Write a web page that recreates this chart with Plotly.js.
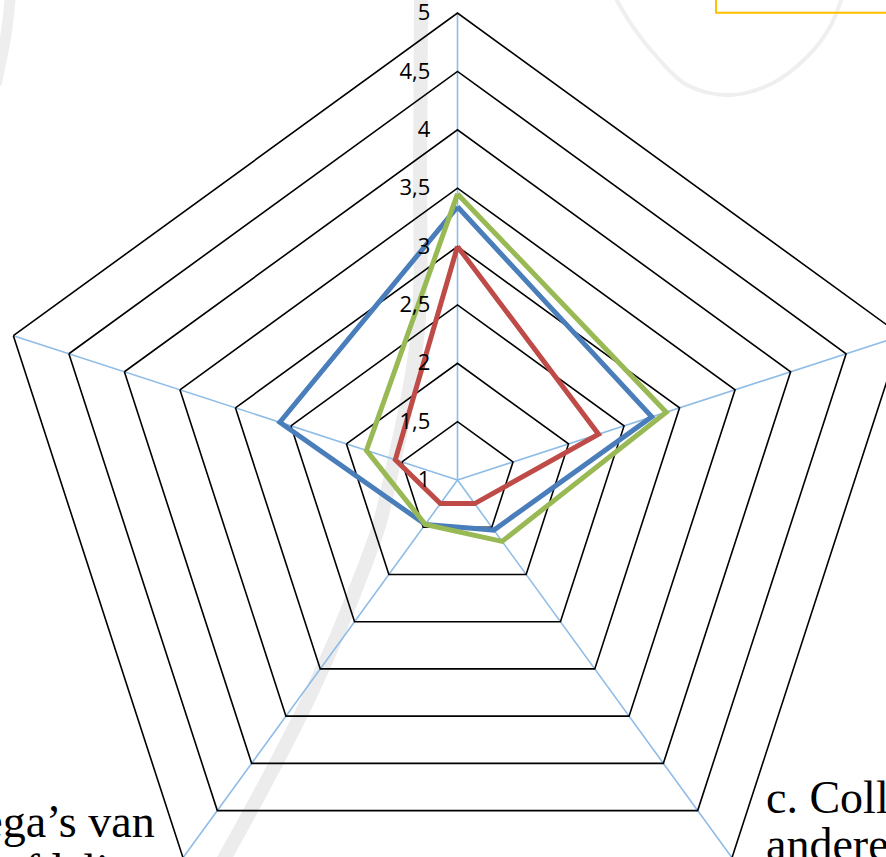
<!DOCTYPE html>
<html>
<head>
<meta charset="utf-8">
<script src="https://cdn.plot.ly/plotly-3.0.1.min.js"></script>
<style>
html,body{margin:0;padding:0;overflow:hidden;width:886px;height:857px;background:#fff;}
#chart{position:absolute;left:-60px;top:-100px;width:1200px;height:1100px;}
</style>
</head>
<body>
<div id="chart"></div>
<script>
// ---- data ----
const categories = ["a.", "b.", "c. Collega’s van andere afdelingen", "d. Collega’s van eigen afdeling", "e."];
const seriesNames = ["Reeks1", "Reeks2", "Reeks3"];
const blueValues  = [3.34, 2.75, 1.53, 1.47, 2.60];
const redValues   = [3.00, 2.27, 1.25, 1.25, 1.56];
const greenValues = [3.45, 2.88, 1.65, 1.47, 1.82];
const radialTicks = [1, 1.5, 2, 2.5, 3, 3.5, 4, 4.5, 5];

// ---- layout helpers (page pixel -> paper) ----
const DL = -60, DT = -100, W = 1200, H = 1100;
function px(x, y){ return [(x - DL) / W, 1 - (y - DT) / H]; }
function smoothPath(pts){
  const p = pts.map(q => px(q[0], q[1]));
  let d = "M" + p[0][0] + "," + p[0][1];
  for (let i = 0; i < p.length - 1; i++){
    const p0 = p[i-1] || p[i], p1 = p[i], p2 = p[i+1], p3 = p[i+2] || p[i+1];
    const c1 = [p1[0] + (p2[0]-p0[0])/6, p1[1] + (p2[1]-p0[1])/6];
    const c2 = [p2[0] - (p3[0]-p1[0])/6, p2[1] - (p3[1]-p1[1])/6];
    d += " C" + c1[0] + "," + c1[1] + " " + c2[0] + "," + c2[1] + " " + p2[0] + "," + p2[1];
  }
  return d;
}

const colors = ["#4A7EBB", "#BE4B48", "#98B954"];
const allValues = [blueValues, redValues, greenValues];
const traces = allValues.map((vals, i) => ({
  type: "scatterpolar",
  mode: "lines",
  name: seriesNames[i],
  r: vals.concat([vals[0]]),
  theta: categories.concat([categories[0]]),
  line: {color: colors[i], width: 5},
  hoverinfo: "skip"
}));

// circle center page (457.5,480), radius 467
const dx0 = px(457.5 - 467, 0)[0], dx1 = px(457.5 + 467, 0)[0];
const dy1 = px(0, 480 - 467)[1], dy0 = px(0, 480 + 467)[1];

const lg = px(716, -45);
const boxA = px(716, -60), boxB = px(1010, 12.7);
const serif = {family: "Liberation Serif", size: 46, color: "#000"};
function label(x, y, text, anchor){
  const p = px(x, y);
  return {xref: "paper", yref: "paper", x: p[0], y: p[1], xanchor: anchor, yanchor: "top",
          align: anchor, showarrow: false, text: text, font: serif};
}

const layout = {
  width: W, height: H,
  margin: {l: 0, r: 0, t: 0, b: 0},
  paper_bgcolor: "#ffffff",
  separators: ",.",
  showlegend: true,
  legend: {
    orientation: "h", x: lg[0], y: lg[1], xanchor: "left", yanchor: "bottom",
    bgcolor: "rgba(0,0,0,0)",
    font: {family: "Open Sans", size: 18, color: "#000"}
  },
  polar: {
    domain: {x: [dx0, dx1], y: [dy0, dy1]},
    bgcolor: "rgba(0,0,0,0)",
    gridshape: "linear",
    radialaxis: {
      range: [1, 5], tickvals: radialTicks, angle: 90, side: "counterclockwise",
      tickangle: 90,
      showline: false, ticks: "outside", ticklen: 19, tickcolor: "rgba(0,0,0,0)",
      gridcolor: "#000000", gridwidth: 1.6,
      tickfont: {family: "Open Sans", size: 22, color: "#000"}
    },
    angularaxis: {
      rotation: 90, direction: "clockwise",
      gridcolor: "#8EBCE6", gridwidth: 1.6,
      showline: true, linecolor: "#000000", linewidth: 1.6,
      showticklabels: false, ticks: ""
    }
  },
  shapes: [
    {type: "path", xref: "paper", yref: "paper", layer: "below",
     path: smoothPath([[421,-10],[420,170],[418,330],[390,480],[367,560],[308,700],[225,857],[200,890]]),
     line: {color: "#ececec", width: 14}},
    {type: "path", xref: "paper", yref: "paper", layer: "below",
     path: smoothPath([[11,-10],[6,35],[-4,85]]),
     line: {color: "#eeeeee", width: 11}},
    {type: "path", xref: "paper", yref: "paper", layer: "below",
     path: smoothPath([[612,-8],[633,27],[657,57],[687,85],[730,95],[773,83],[807,57],[830,27],[844,-8]]),
     line: {color: "#efefef", width: 4}},
    {type: "rect", xref: "paper", yref: "paper", layer: "above",
     x0: boxA[0], y0: boxA[1], x1: boxB[0], y1: boxB[1],
     line: {color: "#FFC000", width: 2}, fillcolor: "rgba(0,0,0,0)"}
  ],
  annotations: [
    label(764, 770, "c. Collega’s van", "left"),
    label(764, 817, "andere afdelingen", "left"),
    label(157, 794, "d. Collega’s van", "right"),
    label(157, 843, "eigen afdeling", "right")
  ]
};

Plotly.newPlot("chart", traces, layout, {displayModeBar: false, staticPlot: true});
</script>
</body>
</html>
